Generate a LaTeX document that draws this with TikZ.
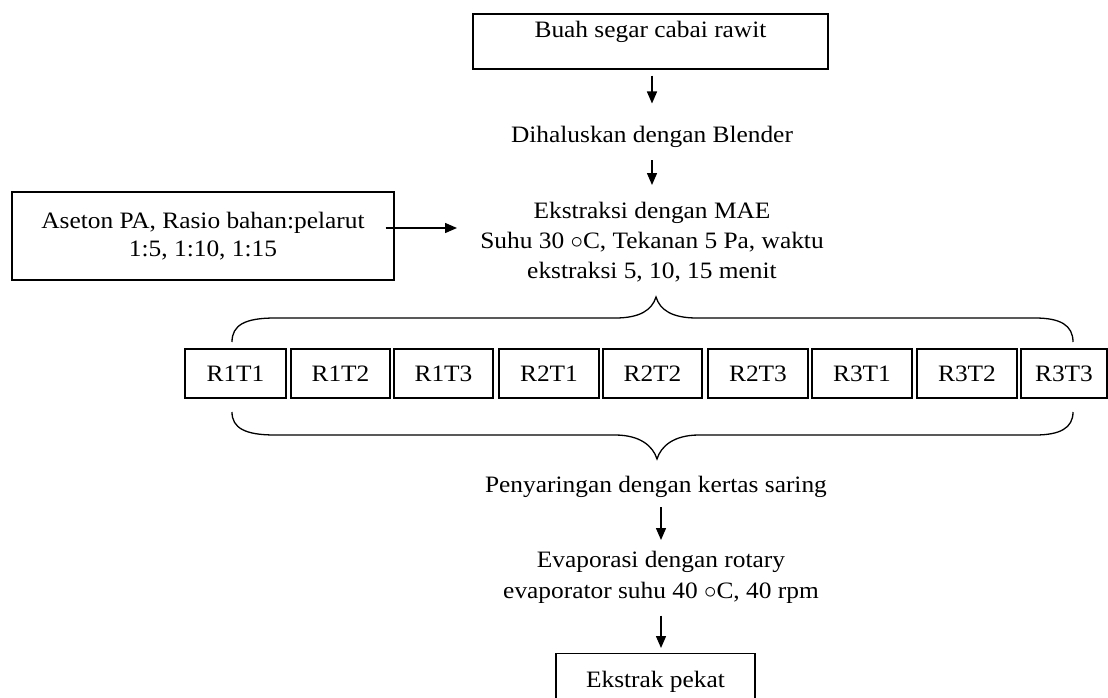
\documentclass[tikz,border=0pt]{standalone}
\usepackage{fontspec}
\setmainfont{Liberation Serif}[FakeStretch=1.08]
\usetikzlibrary{arrows.meta,calc}
\begin{document}
\begin{tikzpicture}[x=1pt,y=-1pt,
  every node/.style={font=\fontsize{23.5}{30}\selectfont, inner sep=0pt},
  box/.style={draw, line width=1.2pt},
  rbox/.style={box, minimum height=49pt, text height=16pt, text depth=0pt},
  lbl/.style={align=center},
  arr/.style={-{Triangle[length=12pt,width=10pt]}, line width=1.4pt},
  bracestyle/.style={line width=1.3pt}]
\useasboundingbox (0,0) rectangle (1108,697);
\clip (0,0) rectangle (1108,697);

% main column
\node[box, minimum width=355pt, minimum height=55pt, text height=16pt, text depth=25pt] (top) at (650.5,41.5) {Buah segar cabai rawit};
\node[anchor=base] (blend) at (652,142) {Dihaluskan dengan Blender};
\node[lbl, anchor=north] (ext) at (652,202) {Ekstraksi dengan MAE\\Suhu 30 $\circ$C, Tekanan 5 Pa, waktu\\ekstraksi 5, 10, 15 menit};

% side input
\node[box, lbl, font=\fontsize{23.5}{28}\selectfont, minimum width=382pt, minimum height=88pt] (ase) at (203,236) {Aseton PA, Rasio bahan:pelarut\\1:5, 1:10, 1:15};
\coordinate (extin) at (457,228);

% treatment boxes
\node[rbox, minimum width=101pt] (r11) at (235.5,373.5) {R1T1};
\node[rbox, minimum width=99pt]  (r12) at (340.5,373.5) {R1T2};
\node[rbox, minimum width=99pt]  (r13) at (443.5,373.5) {R1T3};
\node[rbox, minimum width=100pt] (r21) at (549,373.5) {R2T1};
\node[rbox, minimum width=99pt]  (r22) at (652.5,373.5) {R2T2};
\node[rbox, minimum width=100pt] (r23) at (758,373.5) {R2T3};
\node[rbox, minimum width=100pt] (r31) at (862,373.5) {R3T1};
\node[rbox, minimum width=100pt] (r32) at (967,373.5) {R3T2};
\node[rbox, minimum width=86pt]  (r33) at (1064,373.5) {R3T3};

% lower column
\node[anchor=base] (peny) at (656,492) {Penyaringan dengan kertas saring};
\node[lbl, anchor=north, font=\fontsize{23.5}{31}\selectfont] (evap) at (661,551) {Evaporasi dengan rotary\\evaporator suhu 40 $\circ$C, 40 rpm};
\node[box, anchor=north, minimum width=199pt, minimum height=56pt] (ekst) at (655.5,653) {Ekstrak pekat};

% braces
\draw[bracestyle] (232,342) .. controls (232,325) and (245,318) .. (275,318) -- (615,318)
  .. controls (640,318) and (652,310) .. (656,297)
  .. controls (660,310) and (672,318) .. (697,318) -- (1035,318)
  .. controls (1060,318) and (1073,325) .. (1073,342);
\draw[bracestyle] (232,412) .. controls (232,428) and (245,435) .. (275,435) -- (615,435)
  .. controls (640,435) and (653,446) .. (657,459)
  .. controls (661,446) and (674,435) .. (699,435) -- (1035,435)
  .. controls (1060,435) and (1073,428) .. (1073,412);

% arrows
\draw[arr, shorten <=6pt, shorten >=22pt] (top.south -| blend) -- (blend.north);
\draw[arr, shorten <=13pt, shorten >=17pt] (blend.south) -- (ext.north -| blend);
\draw[arr] ([shift={(-9,-8)}]ase.east) -- (extin);
\draw[arr, shorten <=10pt, shorten >=11pt] (peny.south -| evap) -- (evap.north);
\draw[arr, shorten <=12pt, shorten >=5pt] (evap.south) -- (ekst.north -| evap);
\end{tikzpicture}
\end{document}
